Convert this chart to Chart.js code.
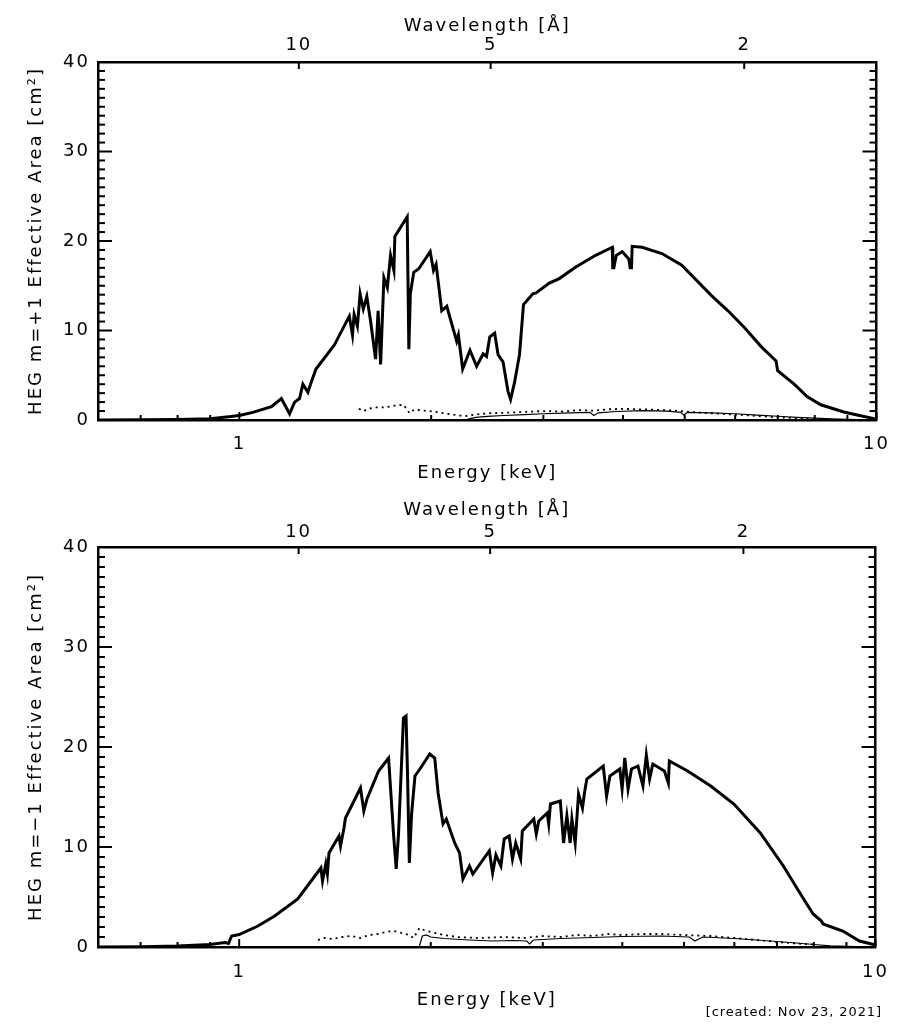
<!DOCTYPE html>
<html>
<head>
<meta charset="utf-8">
<script src="https://cdn.jsdelivr.net/npm/chart.js@4.4.1/dist/chart.umd.min.js"></script>
<style>
  html, body { margin: 0; padding: 0; background: #fff; }
  #wrap { position: relative; width: 902px; height: 1026px; }
  canvas { position: absolute; left: 0; }
  #c1 { top: 0; }
  #c2 { top: 490px; }
  #stamp { position: absolute; top: 1004px; right: 20px; font: 13px "DejaVu Sans"; letter-spacing: 0.9px; line-height: 16px; }
</style>
</head>
<body>
<div id="wrap">
  <canvas id="c1" width="902" height="490"></canvas>
  <canvas id="c2" width="902" height="536"></canvas>
  <div id="stamp">[created: Nov 23, 2021]</div>
</div>
<script>
// HEG effective area, m=+1 (top panel) and m=-1 (bottom panel)
const HC = 12.398; // keV * Angstrom

const energyMin = 0.6, energyMax = 10;
const energyMajor = [1, 10];
const energyMinor = [0.7, 0.8, 0.9, 2, 3, 4, 5, 6, 7, 8, 9];
const waveTicks = [10, 5, 2];
const areaTicks = [0, 10, 20, 30, 40];

// m=+1 : main curve
const plusE = [0.60, 0.70, 0.80, 0.90, 0.97, 1.00, 1.05, 1.123, 1.164, 1.199, 1.221, 1.243, 1.258, 1.281, 1.296, 1.319,
  1.376, 1.410, 1.488, 1.505, 1.514, 1.532, 1.547, 1.565, 1.585, 1.607, 1.636, 1.651, 1.666, 1.686, 1.707, 1.727,
  1.748, 1.754, 1.834, 1.845, 1.855, 1.878, 1.912, 1.993, 2.017, 2.036, 2.078, 2.116, 2.193, 2.207, 2.241, 2.301,
  2.357, 2.414, 2.443, 2.472, 2.516, 2.547, 2.593, 2.640, 2.665, 2.703, 2.752, 2.792, 2.888, 2.922, 3.065, 3.177,
  3.373, 3.624, 3.848, 3.855, 3.870, 3.904, 3.989, 4.085, 4.105, 4.125, 4.135, 4.285, 4.604, 4.946, 5.508, 5.846,
  6.207, 6.590, 6.955, 6.995, 7.425, 7.789, 8.175, 8.884, 9.400, 10.0];
const plusA = [0.0, 0.02, 0.06, 0.15, 0.38, 0.5, 0.85, 1.5, 2.4, 0.7, 2.0, 2.4, 4.0, 3.1, 4.2, 5.7,
  7.4, 8.4, 11.6, 9.5, 11.8, 10.5, 14.1, 12.4, 13.8, 11.0, 6.8, 12.2, 6.2, 15.9, 14.8, 18.4,
  16.7, 20.5, 22.7, 7.9, 14.1, 16.5, 16.9, 18.8, 16.7, 17.4, 12.2, 12.7, 8.8, 9.5, 5.7, 7.8,
  6.0, 7.4, 7.1, 9.3, 9.7, 7.3, 6.5, 3.2, 2.3, 4.2, 7.3, 12.9, 14.1, 14.2, 15.3, 15.8,
  17.1, 18.4, 19.3, 17.0, 17.0, 18.4, 18.8, 18.0, 17.0, 17.0, 19.4, 19.3, 18.6, 17.3, 13.9, 12.2,
  10.3, 8.2, 6.6, 5.5, 4.0, 2.6, 1.7, 0.9, 0.5, 0.1];
// m=+1 : thin solid curve
const plusThinE = [2.28, 2.35, 2.45, 2.6, 2.8, 3.0, 3.3, 3.55, 3.6, 3.66, 3.9, 4.3, 4.7, 4.93, 4.98, 5.05, 5.5, 6.0, 6.5, 7.0, 7.5, 8.0, 8.5, 9.0, 10];
const plusThinA = [0.1, 0.3, 0.4, 0.5, 0.6, 0.7, 0.8, 0.85, 0.5, 0.8, 0.95, 1.05, 1.0, 0.85, 0.55, 0.85, 0.8, 0.7, 0.55, 0.42, 0.3, 0.2, 0.12, 0.06, 0.0];
// m=+1 : dotted curve
const plusDotE = [1.54, 1.57, 1.59, 1.64, 1.69, 1.75, 1.81, 1.85, 1.88, 1.92, 1.97, 2.02, 2.07, 2.12, 2.17, 2.22, 2.27, 2.35, 2.45, 2.6, 2.8,
  3.0, 3.2, 3.4, 3.6, 3.8, 4.0, 4.2, 4.5, 4.8, 5.1, 5.5, 6.0, 6.5, 7.0, 7.5, 8.0];
const plusDotA = [1.25, 1.0, 1.25, 1.4, 1.4, 1.6, 1.7, 0.75, 1.15, 1.1, 1.0, 0.95, 0.8, 0.7, 0.6, 0.5, 0.45, 0.6, 0.75, 0.8, 0.9,
  1.0, 0.95, 1.1, 1.05, 1.2, 1.25, 1.2, 1.15, 1.05, 0.9, 0.75, 0.6, 0.45, 0.3, 0.2, 0.1];

// m=-1 : main curve
const minusE = [0.60, 0.70, 0.80, 0.90, 0.95, 0.962, 0.973, 1.00, 1.07, 1.137, 1.236, 1.344, 1.352, 1.368, 1.376, 1.384,
  1.435, 1.443, 1.461, 1.469, 1.551, 1.570, 1.588, 1.656, 1.717, 1.748, 1.765, 1.780, 1.812, 1.829, 1.838, 1.851,
  1.866, 1.889, 1.923, 1.993, 2.029, 2.054, 2.091, 2.116, 2.181, 2.220, 2.247, 2.301, 2.329, 2.472, 2.502, 2.532,
  2.578, 2.609, 2.656, 2.688, 2.720, 2.769, 2.786, 2.904, 2.930, 2.957, 3.048, 3.065, 3.084, 3.196, 3.234, 3.273,
  3.312, 3.333, 3.373, 3.414, 3.463, 3.488, 3.518, 3.733, 3.779, 3.824, 3.964, 3.997, 4.036, 4.084, 4.135, 4.233,
  4.310, 4.363, 4.415, 4.467, 4.658, 4.725, 4.742, 5.066, 5.508, 5.990, 6.590, 7.164, 7.605, 7.979, 8.221, 8.271,
  8.884, 9.045, 9.432, 9.893, 10.0];
const minusA = [0.0, 0.02, 0.1, 0.25, 0.45, 0.35, 1.1, 1.25, 2.1, 3.1, 4.8, 7.9, 6.6, 8.3, 7.3, 9.4,
  11.1, 10.1, 11.9, 12.9, 15.9, 13.6, 14.8, 17.6, 18.9, 11.3, 7.8, 11.3, 22.9, 23.1, 17.8, 8.4,
  13.3, 17.1, 17.8, 19.3, 18.9, 15.4, 12.3, 12.8, 10.4, 9.4, 6.8, 8.1, 7.3, 9.6, 7.4, 9.2,
  8.1, 10.8, 11.1, 8.8, 10.4, 8.8, 11.6, 12.8, 11.3, 12.6, 13.4, 12.3, 14.3, 14.6, 10.4, 13.1,
  10.4, 12.8, 10.4, 15.3, 13.9, 15.4, 16.8, 18.1, 15.1, 17.1, 17.8, 15.8, 18.9, 15.8, 17.8, 18.1,
  16.1, 19.2, 16.8, 18.3, 17.6, 16.4, 18.6, 17.6, 16.1, 14.3, 11.4, 8.1, 5.4, 3.3, 2.6, 2.3,
  1.6, 1.3, 0.6, 0.27, 0.2];
// m=-1 : thin solid curve
const minusThinE = [1.92, 1.94, 1.97, 2.0, 2.1, 2.3, 2.5, 2.7, 2.83, 2.86, 2.9, 3.2, 3.6, 4.0, 4.6, 5.1, 5.2, 5.35, 6.0, 6.5, 7.0, 7.5, 8.0, 8.5, 9.0, 10];
const minusThinA = [0.1, 1.1, 1.2, 1.0, 0.85, 0.7, 0.6, 0.65, 0.6, 0.3, 0.7, 0.85, 0.95, 1.05, 1.1, 1.0, 0.6, 1.0, 0.85, 0.7, 0.55, 0.4, 0.25, 0.12, 0.06, 0.0];
// m=-1 : dotted curve
const minusDotE = [1.33, 1.36, 1.40, 1.45, 1.5, 1.55, 1.6, 1.65, 1.7, 1.75, 1.8, 1.85, 1.88, 1.92, 1.95, 2.0, 2.1, 2.2, 2.4, 2.6, 2.8,
  3.0, 3.2, 3.4, 3.6, 3.8, 4.0, 4.3, 4.6, 5.0, 5.5, 6.0, 6.5, 7.0, 7.5, 8.0];
const minusDotA = [0.7, 0.9, 0.8, 1.0, 1.1, 0.9, 1.2, 1.3, 1.5, 1.6, 1.4, 1.2, 0.9, 1.9, 1.7, 1.5, 1.2, 1.0, 0.9, 1.0, 0.9,
  1.1, 1.0, 1.2, 1.1, 1.3, 1.2, 1.3, 1.3, 1.2, 1.1, 0.9, 0.7, 0.5, 0.35, 0.25];

const xy = (xs, ys) => xs.map((x, i) => ({ x: x, y: ys[i] }));

// inward tick marks on all four sides, IDL style
const idlTicks = {
  id: 'idlTicks',
  beforeDraw(chart) { chart.ctx.letterSpacing = '2px'; },
  afterDraw(chart) {
    const { ctx, chartArea: a, scales } = chart;
    const seg = (x1, y1, x2, y2) => { ctx.beginPath(); ctx.moveTo(x1, y1); ctx.lineTo(x2, y2); ctx.stroke(); };
    ctx.save();
    ctx.strokeStyle = '#000';
    ctx.lineWidth = 2;
    for (let v = 0; v <= 40; v++) {
      const py = scales.y.getPixelForValue(v);
      const len = areaTicks.includes(v) ? 14 : 7;
      seg(a.left, py, a.left + len, py);
      seg(a.right, py, a.right - len, py);
    }
    energyMajor.forEach(e => { const px = scales.x.getPixelForValue(e); seg(px, a.bottom, px, a.bottom - 8); });
    energyMinor.forEach(e => { const px = scales.x.getPixelForValue(e); seg(px, a.bottom, px, a.bottom - 5); });
    waveTicks.forEach(l => { const px = scales.x2.getPixelForValue(HC / l); seg(px, a.top, px, a.top + 7); });
    ctx.restore();
  }
};

function panel(id, o) {
  const font = { family: 'DejaVu Sans', size: 18 };
  const border = { color: '#000', width: 2.5 };
  const grid = { display: false, drawTicks: false };
  new Chart(document.getElementById(id), {
    type: 'line',
    data: {
      datasets: [
        { data: xy(o.e, o.a), borderColor: '#000', borderWidth: 3 },
        { data: xy(o.thinE, o.thinA), borderColor: '#000', borderWidth: 1.2 },
        { data: xy(o.dotE, o.dotA), borderColor: '#000', borderWidth: 1.8, borderDash: [2, 4] }
      ]
    },
    options: {
      responsive: false,
      animation: false,
      layout: { padding: 0 },
      elements: { point: { radius: 0 }, line: { tension: 0 } },
      plugins: { legend: { display: false }, tooltip: { enabled: false } },
      scales: {
        x: {
          type: 'logarithmic', position: 'bottom', min: energyMin, max: energyMax,
          afterBuildTicks: s => { s.ticks = energyMajor.map(v => ({ value: v })); },
          afterFit: s => { s.height = o.bottomH; },
          grid: grid, border: border,
          ticks: { color: '#000', font: font, padding: o.xPad, maxRotation: 0, autoSkip: false, callback: v => String(v) },
          title: { display: true, text: 'Energy [keV]', color: '#000', font: font, padding: { top: 0, bottom: o.xTitlePad } }
        },
        x2: {
          type: 'logarithmic', position: 'top', min: energyMin, max: energyMax,
          afterBuildTicks: s => { s.ticks = waveTicks.map(l => ({ value: HC / l })); },
          afterFit: s => { s.height = o.topH; },
          grid: grid, border: border,
          ticks: { color: '#000', font: font, padding: o.wPad, maxRotation: 0, autoSkip: false, callback: (v, i) => String(waveTicks[i]) },
          title: { display: true, text: 'Wavelength [Å]', color: '#000', font: font, padding: { top: o.wTitlePad, bottom: 0 } }
        },
        y: {
          type: 'linear', position: 'left', min: 0, max: 40,
          afterBuildTicks: s => { s.ticks = areaTicks.map(v => ({ value: v })); },
          afterFit: s => { s.width = 98; },
          grid: grid, border: border,
          ticks: { color: '#000', font: font, padding: 8 },
          title: { display: true, text: o.yTitle, color: '#000', font: font, padding: { top: 26, bottom: 0 } }
        },
        y2: {
          type: 'linear', position: 'right', min: 0, max: 40,
          afterFit: s => { s.width = 19; },
          grid: grid, border: border,
          ticks: { display: false }
        }
      }
    },
    plugins: [idlTicks]
  });
}

panel('c1', {
  e: plusE, a: plusA, thinE: plusThinE, thinA: plusThinA, dotE: plusDotE, dotA: plusDotA,
  yTitle: 'HEG m=+1 Effective Area [cm²]',
  topH: 62, bottomH: 70, xPad: 14, xTitlePad: 6, wPad: 6, wTitlePad: 16
});
panel('c2', {
  e: minusE, a: minusA, thinE: minusThinE, thinA: minusThinA, dotE: minusDotE, dotA: minusDotA,
  yTitle: 'HEG m=−1 Effective Area [cm²]',
  topH: 57, bottomH: 79, xPad: 15, xTitlePad: 15, wPad: 4, wTitlePad: 10
});
</script>
</body>
</html>
